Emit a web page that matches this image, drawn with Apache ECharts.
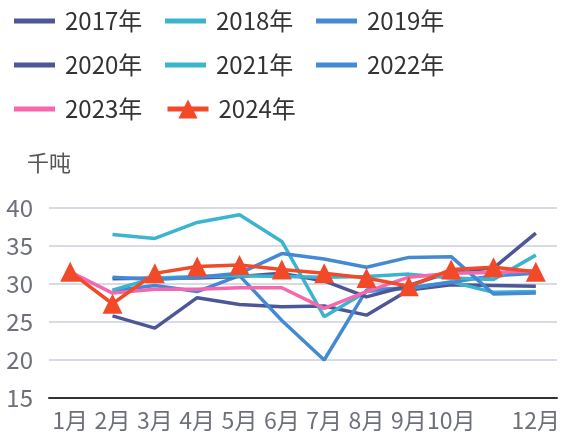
<!DOCTYPE html>
<html>
<head>
<meta charset="utf-8">
<script src="https://cdn.jsdelivr.net/npm/echarts@6/dist/echarts.min.js"></script>
<style>
  html, body { margin: 0; padding: 0; background: #fff; }
  #chart { width: 564px; height: 436px; }
</style>
</head>
<body>
<div id="chart"></div>
<script>
const months = ['1月', '2月', '3月', '4月', '5月', '6月', '7月', '8月', '9月', '10月', '11月', '12月']
const years = ['2017年', '2018年', '2019年', '2020年', '2021年', '2022年', '2023年', '2024年']
const yTicks = [15, 20, 25, 30, 35, 40]

const y2017 = [null, 25.8, 24.2, 28.2, 27.3, 27.0, 27.1, 25.9, 29.2, 29.9, 29.8, 29.7]
const y2018 = [null, 36.5, 36.0, 38.1, 39.1, 35.6, 25.7, 29.0, 29.4, 30.3, 28.9, 29.0]
const y2019 = [null, 29.1, 29.8, 29.0, 31.1, 25.2, 20.0, 29.2, 29.5, 30.2, 31.1, 31.4]
const y2020 = [null, 30.7, 30.8, 30.8, 31.0, 31.4, 30.4, 28.3, 29.8, 31.6, 32.1, 36.7]
const y2021 = [null, 29.2, 30.8, 31.0, 31.1, 31.0, 30.9, 31.0, 31.3, 30.8, 30.6, 33.8]
const y2022 = [null, 30.9, 30.6, 30.9, 31.4, 34.0, 33.3, 32.2, 33.5, 33.6, 28.7, 28.8]
const y2023 = [31.6, 28.8, 29.3, 29.3, 29.5, 29.5, 26.8, 29.0, 30.9, 31.4, 31.5, 31.7]
const y2024 = [31.6, 27.4, 31.4, 32.3, 32.5, 31.9, 31.4, 30.8, 29.7, 31.9, 32.2, 31.6]

const colDark = '#4d5797'
const colCyan = '#3cb4cd'
const colBlue = '#4489d4'
const colPink = '#f667ae'
const colRed = '#f24a28'

const font = '"Noto Sans CJK SC", "Noto Sans", sans-serif'
const barIcon = 'path://M0,0H41V5H0Z'

function lineSeries(name, data, color) {
  return {
    name: name,
    type: 'line',
    data: data,
    symbol: 'none',
    color: color,
    lineStyle: { width: 3.5, color: color }
  }
}

// plain bar icon for every year except 2024, which keeps line + triangle
const legendData = years.map(function (y) {
  return y === '2024年'
    ? { name: y, lineStyle: { width: 5 } }
    : { name: y, icon: barIcon }
})

const chart = echarts.init(document.getElementById('chart'))
chart.setOption({
  animation: false,
  textStyle: { fontFamily: font },
  legend: {
    data: legendData,
    left: 14,
    top: 8,
    padding: 0,
    width: 470,
    itemWidth: 41,
    itemHeight: 24,
    itemGap: 18,
    textStyle: {
      fontSize: 24, color: '#333', width: 82, lineHeight: 26,
      padding: [0, 0, 0, 5], fontFamily: font
    }
  },
  grid: { left: 49, right: 7, top: 208, bottom: 38 },
  xAxis: {
    type: 'category',
    data: months,
    boundaryGap: true,
    axisLine: { lineStyle: { color: '#333', width: 2 } },
    axisTick: { length: 10, lineStyle: { color: '#333', width: 2 } },
    axisLabel: {
      fontSize: 23,
      color: '#6e7079',
      margin: 11,
      interval: function (i) { return i !== 10 }
    }
  },
  yAxis: {
    type: 'value',
    min: yTicks[0],
    max: yTicks[yTicks.length - 1],
    interval: 5,
    name: '千吨',
    nameGap: 34,
    nameTextStyle: { fontSize: 22, color: '#555', fontFamily: font },
    axisLine: { show: false },
    axisTick: { show: false },
    axisLabel: { fontSize: 24, color: '#6e7079', margin: 16 },
    splitLine: { lineStyle: { color: '#d8dbe6', width: 2 } }
  },
  series: [
    lineSeries(years[0], y2017, colDark),
    lineSeries(years[1], y2018, colCyan),
    lineSeries(years[2], y2019, colBlue),
    lineSeries(years[3], y2020, colDark),
    lineSeries(years[4], y2021, colCyan),
    lineSeries(years[5], y2022, colBlue),
    lineSeries(years[6], y2023, colPink),
    {
      name: years[7],
      type: 'line',
      data: y2024,
      symbol: 'triangle',
      symbolSize: 20,
      color: colRed,
      itemStyle: { color: colRed },
      lineStyle: { width: 3.5, color: colRed },
      z: 5
    }
  ]
})
</script>
</body>
</html>
